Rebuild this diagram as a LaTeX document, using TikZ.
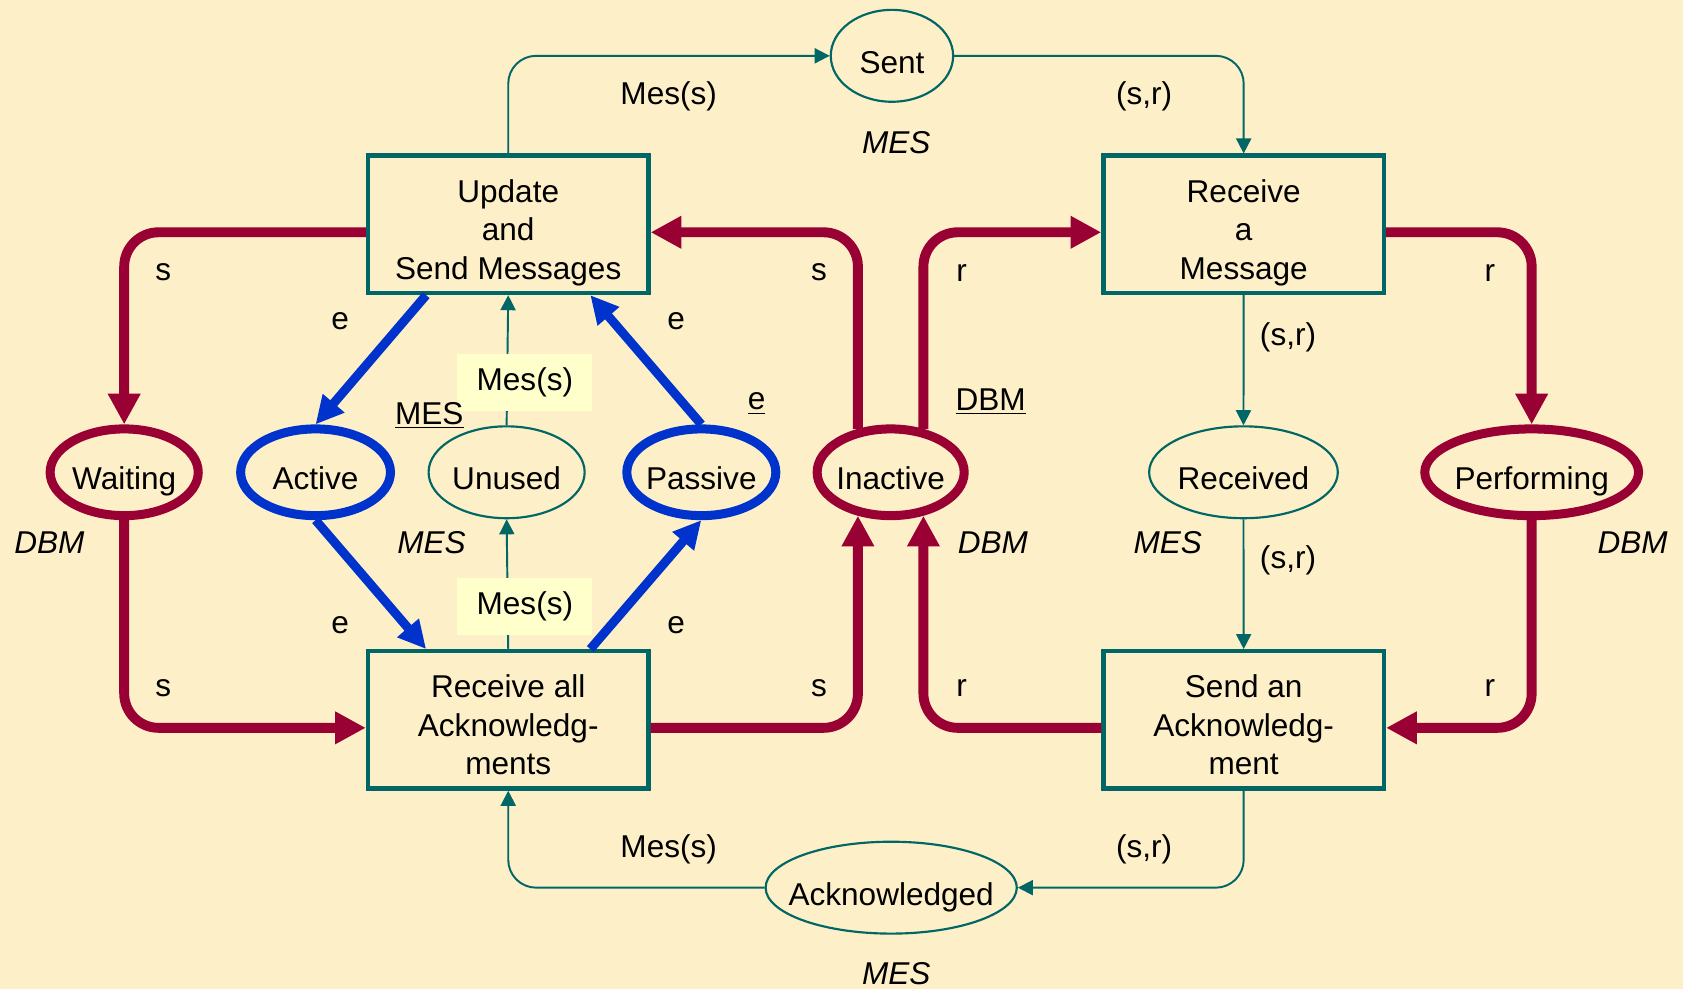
\documentclass[tikz,border=0pt]{standalone}
\usepackage{fontspec}
\setmainfont{Liberation Sans}
\usetikzlibrary{arrows.meta,shapes.geometric,calc}
\definecolor{bg}{RGB}{253,239,199}
\definecolor{tealc}{RGB}{0,102,102}
\definecolor{wine}{RGB}{153,0,51}
\definecolor{royal}{RGB}{0,51,204}
\definecolor{lemon}{RGB}{255,255,204}
\begin{document}
\begin{tikzpicture}[x=0.5pt,y=-0.5pt,
  every node/.style={font=\fontsize{14.7}{18}\selectfont},
  trans/.style={rectangle, draw=tealc, line width=2pt, minimum width=130.7pt, minimum height=64pt, inner sep=0pt},
  thickpl/.style={ellipse, line width=4.2pt, minimum height=40.4pt, inner sep=0pt},
  thinpl/.style={ellipse, draw=tealc, line width=1pt, minimum height=42.8pt, inner sep=0pt},
  redp/.style={draw=wine, line width=4.6pt, rounded corners=16pt, -{Triangle[length=14.3pt,width=14.3pt]}},
  bluep/.style={draw=royal, line width=4.2pt, -{Triangle[length=13pt,width=12.5pt]}},
  tealp/.style={draw=tealc, line width=0.9pt, rounded corners=13pt, -{Triangle[length=7pt,width=7pt]}},
  lab/.style={inner sep=0pt},
  ital/.style={inner sep=0pt, font=\fontsize{14.7}{18}\selectfont\itshape},
  hl/.style={fill=lemon, minimum width=63pt, minimum height=26.5pt, inner sep=0pt}
]
\fill[bg] (0,0) rectangle (1568,921.4);

% transitions
\node[trans, label={[name=updt,yshift=-4pt,align=center]center:{\strut Update\\and\\Send Messages\strut}}] (upd) at (473.5,209) {};
\node[trans, label={[name=rmsgt,yshift=-4pt,align=center]center:{\strut Receive\\a\\Message\strut}}] (rmsg) at (1158.7,209) {};
\node[trans, label={[name=rallt,yshift=-4pt,align=center]center:{\strut Receive all\\Acknowledg-\\ments\strut}}] (rall) at (473.5,670.7) {};
\node[trans, label={[name=sackt,yshift=-4pt,align=center]center:{\strut Send an\\Acknowledg-\\ment\strut}}] (sack) at (1158.7,670.7) {};

% places
\node[thinpl, minimum width=57pt, label={[name=sentt,yshift=-4.6pt]center:\strut Sent}] (sent) at (831,52) {};
\node[thinpl, minimum width=117pt, label={[name=ackdt,yshift=-4.6pt]center:\strut Acknowledged}] (ackd) at (830.3,827) {};
\node[thickpl, draw=wine, minimum width=69pt, label={[name=waitt,yshift=-4.6pt]center:\strut Waiting}] (wait) at (115.7,440) {};
\node[thickpl, draw=royal, minimum width=69.8pt, label={[name=actt,yshift=-4.6pt]center:\strut Active}] (act) at (294,440) {};
\node[thinpl, minimum width=72.7pt, label={[name=unust,yshift=-4.6pt]center:\strut Unused}] (unus) at (472,440) {};
\node[thickpl, draw=royal, minimum width=69.4pt, label={[name=passt,yshift=-4.6pt]center:\strut Passive}] (pass) at (653.4,440) {};
\node[thickpl, draw=wine, minimum width=68.5pt, label={[name=inactt,yshift=-4.6pt]center:\strut Inactive}] (inact) at (829.8,440) {};
\node[thinpl, minimum width=87.9pt, label={[name=recdt,yshift=-4.6pt]center:\strut Received}] (recd) at (1158.5,440) {};
\node[thickpl, draw=wine, minimum width=99.6pt, label={[name=perft,yshift=-4.6pt]center:\strut Performing}] (perf) at (1427,440) {};

% red (DBM) arcs
\draw[redp] ([yshift=-3.7pt]upd.west) -| (wait.north);
\draw[redp] (wait.south) |- ([yshift=-3.7pt]rall.west);
\draw[redp] ([yshift=-3.7pt]rall.east) -| (inact.233);
\draw[redp] (inact.127) |- ([yshift=-3.7pt]upd.east);
\draw[redp] (inact.53) |- ([yshift=-3.7pt]rmsg.west);
\draw[redp] ([yshift=-3.7pt]rmsg.east) -| (perf.north);
\draw[redp] (perf.south) |- ([yshift=-3.7pt]sack.east);
\draw[redp] ([yshift=-3.7pt]sack.west) -| (inact.307);

% blue arcs
\draw[bluep] ([xshift=-38.25pt]upd.south) -- (act.north);
\draw[bluep] (pass.north) -- ([xshift=38.25pt]upd.south);
\draw[bluep] (act.south) -- ([xshift=-38.25pt]rall.north);
\draw[bluep] ([xshift=38.25pt]rall.north) -- (pass.south);

% teal arcs
\draw[tealp] (upd.north) |- (sent.west);
\draw[tealp] (sent.east) -| (rmsg.north);
\draw[tealp] (rmsg.south) -- (recd.north);
\draw[tealp] (recd.south) -- (sack.north);
\draw[tealp] (sack.south) |- (ackd.east);
\draw[tealp] (ackd.west) -| (rall.south);
\draw[tealp] (unus.north) -- (upd.south);
\draw[tealp] (rall.north) -- (unus.south);

% highlighted labels
\node[hl] (hl1) at (489,356.5) {Mes(s)};
\node[hl] (hl2) at (489,565) {Mes(s)};

% arc labels
\node[lab] (m1) at (623,90) {Mes(s)};
\node[lab] (m2) at (1066,90) {(s,r)};
\node[ital] (m3) at (835,133) {MES};
\node[lab] (s1) at (152,254) {s};
\node[lab] (e1) at (317,299) {e};
\node[lab] (e2) at (630,299) {e};
\node[lab] (s2) at (763,254) {s};
\node[lab] (r1) at (896,254) {r};
\node[lab] (r2) at (1388,254) {r};
\node[lab] (m4) at (1200,314) {(s,r)};
\node[lab] (u1) at (400,387) {\underline{MES}};
\node[lab] (u2) at (705,376) {\underline{e}};
\node[lab] (u3) at (923,374) {\underline{DBM}};
\node[ital] (d1) at (46,506) {DBM};
\node[ital] (d2) at (402,506) {MES};
\node[ital] (d3) at (925,506) {DBM};
\node[ital] (d4) at (1088,506) {MES};
\node[ital] (d5) at (1521,506) {DBM};
\node[lab] (m5) at (1200,522) {(s,r)};
\node[lab] (e3) at (317,582) {e};
\node[lab] (e4) at (630,582) {e};
\node[lab] (s3) at (152,641) {s};
\node[lab] (s4) at (763,641) {s};
\node[lab] (r3) at (896,641) {r};
\node[lab] (r4) at (1388,641) {r};
\node[lab] (m6) at (623,791) {Mes(s)};
\node[lab] (m7) at (1066,791) {(s,r)};
\node[ital] (m8) at (835,907) {MES};
\end{tikzpicture}
\end{document}
